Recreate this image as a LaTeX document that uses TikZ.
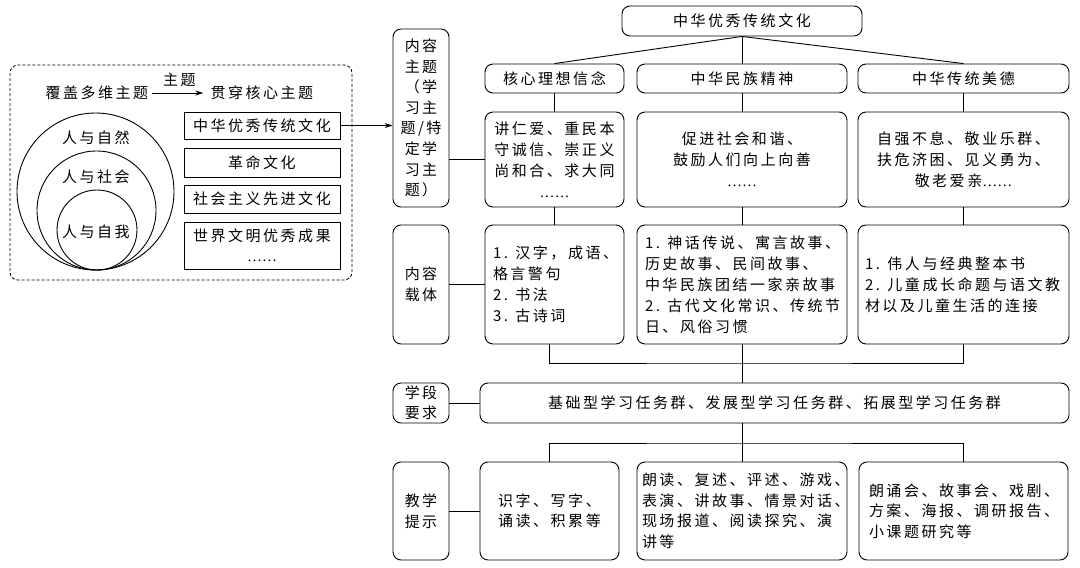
\documentclass[tikz,border=0pt]{standalone}
\usepackage{fontspec}
\newfontfamily\cjk[LetterSpace=16.7]{Noto Sans CJK SC}
\newfontfamily\latdots{Liberation Serif}
\usetikzlibrary{arrows.meta}

\begin{document}
\begin{tikzpicture}[x=1pt, y=-1pt, line width=0.9pt,
    every node/.style={font=\cjk\fontsize{15}{21}\selectfont, inner sep=0pt},
    tbox/.style={draw, rounded corners=8pt, align=center},
    lbox/.style={draw, rounded corners=8pt, align=left, inner xsep=8pt},
    side/.style={draw, rounded corners=8pt, minimum width=56pt, align=center},
    sbox/.style={draw, align=center, minimum width=156pt},
    tip/.style={-{Stealth[length=8pt,width=5pt]}}]
    \useasboundingbox (0,0) rectangle (1080,568);

    % left panel
    \draw [dashed, dash pattern=on 3pt off 2pt, rounded corners=8pt, line width=0.8pt] (10,65) rectangle (352,280);
    \node (multi) at (97,93) {覆盖多维主题};
    \node (core) at (262,93) {贯穿核心主题};
    \draw [tip, shorten <=3pt, shorten >=7pt] (multi) -- node [above=6pt] (themelbl) {主题} (core);
    \node [circle, draw, minimum size=157pt] (nature) at (95.5,191.5) {};
    \node [circle, draw, minimum size=119pt] (society) at (96.5,210.5) {};
    \node [circle, draw, minimum size=80pt] (self) at (97,230) {};
    \node (naturetxt) at (96,138) {人与自然};
    \node (societytxt) at (96,177) {人与社会};
    \node (selftxt) at (96,232) {人与自我};
    \node [sbox, minimum height=27pt] (trad) at (262,125.5) {中华优秀传统文化};
    \node [sbox, minimum height=29pt] (rev) at (262,162.5) {革命文化};
    \node [sbox, minimum height=28pt] (socialist) at (262,199) {社会主义先进文化};
    \node [sbox, minimum height=47pt, font=\cjk\fontsize{15}{20}\selectfont] (world) at (262,245.5) {世界文明优秀成果\\{\latdots ……}};

    % side labels
    \node [side, minimum height=178pt, font=\cjk\fontsize{15}{20.6}\selectfont] (theme) at (421,118) {内容\\主题\\（学\\习主\\题/特\\定学\\习主\\题）};
    \node [side, minimum height=119pt] (carrier) at (421,284.5) {内容\\载体};
    \node [side, minimum height=40pt, font=\cjk\fontsize{15}{20}\selectfont] (stage) at (421,403) {学段\\要求};
    \node [side, minimum height=98pt] (tips) at (421,511) {教学\\提示};
    \draw [tip] (trad.east) -- (trad.east -| theme.west);

    % tree
    \node [tbox, minimum width=240pt, minimum height=30pt] (top) at (742,21) {中华优秀传统文化};
    \node [tbox, minimum width=139pt, minimum height=29pt] (r2a) at (554.5,78.5) {核心理想信念};
    \node [tbox, minimum width=210pt, minimum height=29pt] (r2b) at (742,78.5) {中华民族精神};
    \node [tbox, minimum width=211pt, minimum height=29pt] (r2c) at (963.5,78.5) {中华传统美德};

    \node [tbox, minimum width=139pt, minimum height=95pt] (r3a) at (554.5,159.5) {讲仁爱、重民本\\守诚信、崇正义\\尚和合、求大同\\{\latdots ……}};
    \node [tbox, minimum width=210pt, minimum height=95pt] (r3b) at (742,159.5) {促进社会和谐、\\鼓励人们向上向善\\{\latdots ……}};
    \node [tbox, minimum width=211pt, minimum height=95pt] (r3c) at (963.5,159.5) {自强不息、敬业乐群、\\扶危济困、见义勇为、\\敬老爱亲{\latdots ……}};

    \node [lbox, text width=123pt, minimum height=119pt] (r4a) at (554.5,284.5) {1. 汉字，成语、\\格言警句\\2. 书法\\3. 古诗词};
    \node [lbox, text width=194pt, minimum height=119pt] (r4b) at (742,284.5) {1. 神话传说、寓言故事、\\历史故事、民间故事、\\中华民族团结一家亲故事\\2. 古代文化常识、传统节\\日、风俗习惯};
    \node [lbox, inner xsep=7pt, text width=197pt, minimum height=119pt] (r4c) at (963.5,284.5) {1. 伟人与经典整本书\\2. 儿童成长命题与语文教\\材以及儿童生活的连接};

    \node [tbox, minimum width=589pt, minimum height=40pt] (task) at (774.5,403) {基础型学习任务群、发展型学习任务群、拓展型学习任务群};

    \node [tbox, minimum width=139pt, minimum height=98pt, font=\cjk\fontsize{15}{20.5}\selectfont] (r5a) at (549.5,511) {识字、写字、\\诵读、积累等};
    \node [lbox, inner xsep=5pt, text width=200pt, minimum height=98pt, font=\cjk\fontsize{15}{20.5}\selectfont] (r5b) at (742,511) {朗读、复述、评述、游戏、\\表演、讲故事、情景对话、\\现场报道、阅读探究、演\\讲等};
    \node [lbox, inner xsep=10pt, text width=189pt, minimum height=98pt, font=\cjk\fontsize{15}{20.5}\selectfont] (r5c) at (963.5,511) {朗诵会、故事会、戏剧、\\方案、海报、调研报告、\\小课题研究等};

    % connectors
    \foreach \c in {a,b,c}
    {
        \draw (top.south) -- (r2\c.north);
        \draw (r2\c) -- (r3\c);
        \draw (r3\c) -- (r4\c);
    }
    \draw (theme.east |- r3a) -- (r3a);
    \draw (carrier) -- (r4a);
    \draw (stage) -- (task);
    \draw (tips) -- (r5a);
    \coordinate (join1) at (742,363);
    \draw (r5a |- r4a.south) |- (join1) -| (r4c.south);
    \draw (r4b) -- (r4b |- task.north);
    \coordinate (join2) at (742,443);
    \draw (join2 |- task.south) -- (join2);
    \draw (r5a.north) |- (join2) -| (r5c.north);
    \draw (join2) -- (r5b);
\end{tikzpicture}
\end{document}
